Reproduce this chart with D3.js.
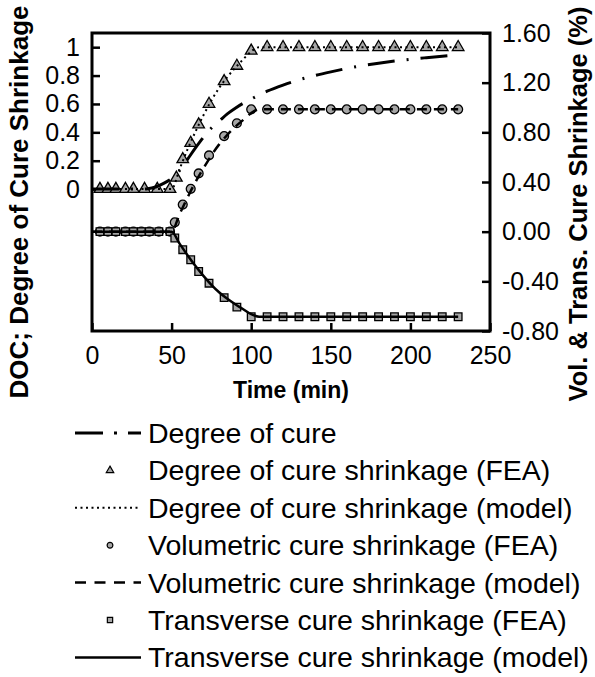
<!DOCTYPE html>
<html>
<head>
<meta charset="utf-8">
<script src="https://cdn.jsdelivr.net/npm/d3@7"></script>
<style>
  html, body { margin: 0; padding: 0; background: #fff; }
  svg { display: block; }
  text { font-family: "Liberation Sans", Arial, Helvetica, sans-serif; fill: #000; }
</style>
</head>
<body>
<svg id="chart" width="595" height="677"></svg>
<script>
// ---- data -------------------------------------------------------------
// Degree of cure (left axis)
const docTime  = [0, 10, 20, 30, 35, 40, 45, 50, 55, 60, 65, 70, 75, 80, 85, 90, 95, 100, 110, 120, 130, 140, 150, 160, 170, 180, 190, 200, 210, 220, 230];
const docValue = [0, 0, 0, 0, 0.003, 0.015, 0.04, 0.075, 0.13, 0.21, 0.29, 0.365, 0.43, 0.48, 0.53, 0.57, 0.605, 0.635, 0.69, 0.733, 0.77, 0.8, 0.826, 0.85, 0.87, 0.887, 0.902, 0.915, 0.926, 0.936, 0.945];

// Degree of cure shrinkage, normalised (left axis)
const docShrTimeFEA  = [5, 10, 15, 21, 26, 33, 41, 49, 53, 57, 62, 67, 73.5, 83, 91, 100, 110, 120, 130, 140, 150, 160, 170, 180, 190, 200, 210, 220, 230];
const docShrValueFEA = [0, 0, 0, 0, 0, 0, 0, 0, 0.08, 0.21, 0.325, 0.455, 0.6, 0.76, 0.868, 0.975, 1, 1, 1, 1, 1, 1, 1, 1, 1, 1, 1, 1, 1];

const modelTime      = [0, 5, 10, 15, 20, 25, 30, 35, 40, 45, 50, 55, 60, 65, 70, 75, 80, 85, 90, 95, 100, 105, 110, 120, 130, 140, 150, 160, 170, 180, 190, 200, 210, 220, 230];
const docShrModel    = [0, 0, 0, 0, 0, 0, 0, 0, 0, 0, 0, 0.14, 0.28, 0.405, 0.52, 0.625, 0.715, 0.79, 0.855, 0.915, 0.97, 1, 1, 1, 1, 1, 1, 1, 1, 1, 1, 1, 1, 1, 1];

// Volumetric and transverse cure shrinkage in % (right axis)
const shrTimeFEA  = [5, 10, 15, 21, 26, 31, 36, 42, 49, 52, 57, 62, 67, 73.5, 83, 91, 100, 110, 120, 130, 140, 150, 160, 170, 180, 190, 200, 210, 220, 230];
const volValueFEA = [0, 0, 0, 0, 0, 0, 0, 0, 0, 0.075, 0.218, 0.345, 0.469, 0.614, 0.77, 0.873, 0.985, 0.985, 0.985, 0.985, 0.985, 0.985, 0.985, 0.985, 0.985, 0.985, 0.985, 0.985, 0.985, 0.985];
const trValueFEA  = [0, 0, 0, 0, 0, 0, 0, 0, 0, -0.051, -0.145, -0.226, -0.321, -0.415, -0.531, -0.608, -0.685, -0.685, -0.685, -0.685, -0.685, -0.685, -0.685, -0.685, -0.685, -0.685, -0.685, -0.685, -0.685, -0.685];

const volModel = [0, 0, 0, 0, 0, 0, 0, 0, 0, 0, 0, 0.14, 0.275, 0.4, 0.51, 0.615, 0.705, 0.78, 0.845, 0.9, 0.955, 0.985, 0.985, 0.985, 0.985, 0.985, 0.985, 0.985, 0.985, 0.985, 0.985, 0.985, 0.985, 0.985, 0.985];
const trModel  = [0, 0, 0, 0, 0, 0, 0, 0, 0, 0, 0, -0.096, -0.19, -0.277, -0.356, -0.428, -0.49, -0.541, -0.585, -0.625, -0.665, -0.685, -0.685, -0.685, -0.685, -0.685, -0.685, -0.685, -0.685, -0.685, -0.685, -0.685, -0.685, -0.685, -0.685];

// Axis ticks
const xTicks     = [0, 50, 100, 150, 200, 250];
const leftTicks  = [0, 0.2, 0.4, 0.6, 0.8, 1];
const rightTicks = [-0.8, -0.4, 0, 0.4, 0.8, 1.2, 1.6];

const legendLabels = [
  "Degree of cure",
  "Degree of cure shrinkage (FEA)",
  "Degree of cure shrinkage (model)",
  "Volumetric cure shrinkage (FEA)",
  "Volumetric cure shrinkage (model)",
  "Transverse cure shrinkage (FEA)",
  "Transverse cure shrinkage (model)"
];

// ---- layout -----------------------------------------------------------
const plot = { left: 92, right: 490, top: 33, bottom: 331 };
const MARK_FILL = "#a6a6a6";

const svg = d3.select("#chart");

const x = d3.scaleLinear().domain([0, 250]).range([plot.left, plot.right]);
const yL = d3.scaleLinear().domain([-1, 1.1]).range([plot.bottom, plot.top]);
const yR = d3.scaleLinear().domain([-0.8, 1.6]).range([plot.bottom, plot.top]);

// ---- axes (ticks point inward) -----------------------------------------
const fmtL = d => d === 0 ? "0" : d === 1 ? "1" : d3.format(".1f")(d);
const fmtR = d => d3.format(".2f")(d).replace("−", "-");

const axisBottom = d3.axisBottom(x).tickValues(xTicks).tickSize(-8).tickPadding(15).tickFormat(d3.format("d"));
const axisLeft = d3.axisLeft(yL).tickValues(leftTicks).tickSize(-8).tickPadding(12).tickFormat(fmtL);
const axisRight = d3.axisRight(yR).tickValues(rightTicks).tickSize(-8).tickPadding(12).tickFormat(fmtR);

function styleAxis(g, size) {
  g.select(".domain").remove();
  g.selectAll(".tick line").attr("stroke", "#000").attr("stroke-width", 2.5);
  g.selectAll(".tick text").attr("font-size", size).attr("fill", "#000");
}

svg.append("g").attr("transform", `translate(0,${plot.bottom})`).call(axisBottom).call(g => styleAxis(g, 25));
svg.append("g").attr("transform", `translate(${plot.left},0)`).call(axisLeft).call(g => styleAxis(g, 25));
svg.append("g").attr("transform", `translate(${plot.right},0)`).call(axisRight).call(g => styleAxis(g, 25));

// frame
svg.append("rect")
  .attr("x", plot.left).attr("y", plot.top)
  .attr("width", plot.right - plot.left).attr("height", plot.bottom - plot.top)
  .attr("fill", "none").attr("stroke", "#000").attr("stroke-width", 3);

// ---- axis titles -------------------------------------------------------
svg.append("text")
  .attr("transform", `translate(${(plot.left + plot.right) / 2},398)`)
  .attr("text-anchor", "middle").attr("font-weight", "bold").attr("font-size", 23)
  .text("Time (min)");

svg.append("text")
  .attr("transform", "translate(28,202) rotate(-90)")
  .attr("text-anchor", "middle").attr("font-weight", "bold").attr("font-size", 26)
  .text("DOC; Degree of Cure Shrinkage");

svg.append("text")
  .attr("transform", "translate(587,204) rotate(-90)")
  .attr("text-anchor", "middle").attr("font-weight", "bold").attr("font-size", 25.5)
  .text("Vol. & Trans. Cure Shrinkage (%)");

// ---- marker symbols -----------------------------------------------------
const triSym = d3.symbol().type(d3.symbolTriangle);
const sqSym = d3.symbol().type(d3.symbolSquare);
const circSym = d3.symbol().type(d3.symbolCircle);

function markers(g, xs, ys, yScale, sym, size) {
  g.selectAll(null).data(xs.map((t, i) => [t, ys[i]])).join("path")
    .attr("transform", d => `translate(${x(d[0])},${yScale(d[1])})`)
    .attr("d", sym.size(size)())
    .attr("fill", MARK_FILL).attr("stroke", "#000").attr("stroke-width", 1.3);
}

const plotG = svg.append("g");

// FEA points
markers(plotG, shrTimeFEA, volValueFEA, yR, circSym, 62);
markers(plotG, shrTimeFEA, trValueFEA, yR, sqSym, 58);
markers(plotG, docShrTimeFEA, docShrValueFEA, yL, triSym, 58);

// model curves on top
function curve(ts, vs, yScale) {
  return d3.line().x(d => x(d[0])).y(d => yScale(d[1])).curve(d3.curveMonotoneX)(ts.map((t, i) => [t, vs[i]]));
}

const lineStyles = {
  doc:    { width: 3,   dash: "27,12,2,12" },
  docShr: { width: 2,   dash: "2,3.5" },
  vol:    { width: 2.5, dash: "10,7" },
  tr:     { width: 2.5, dash: null }
};

plotG.append("path").attr("d", curve(modelTime, trModel, yR))
  .attr("fill", "none").attr("stroke", "#000").attr("stroke-width", lineStyles.tr.width);
plotG.append("path").attr("d", curve(modelTime, volModel, yR))
  .attr("fill", "none").attr("stroke", "#000").attr("stroke-width", lineStyles.vol.width)
  .attr("stroke-dasharray", lineStyles.vol.dash);
plotG.append("path").attr("d", curve(modelTime, docShrModel, yL))
  .attr("fill", "none").attr("stroke", "#000").attr("stroke-width", lineStyles.docShr.width)
  .attr("stroke-dasharray", lineStyles.docShr.dash);
plotG.append("path").attr("d", curve(docTime, docValue, yL))
  .attr("fill", "none").attr("stroke", "#000").attr("stroke-width", lineStyles.doc.width)
  .attr("stroke-dasharray", lineStyles.doc.dash);

// ---- legend -------------------------------------------------------------
const legend = svg.append("g");
const rowY = i => 433 + i * 37.4;
const lx0 = 75, lx1 = 141, mx = 110, tx = 148;

const legendKinds = [
  { line: lineStyles.doc, dash: "28,11,3,11" },
  { marker: triSym, size: 24 },
  { line: lineStyles.docShr, dash: "2,3.5" },
  { marker: circSym, size: 26 },
  { line: lineStyles.vol, dash: "11,8.5" },
  { marker: sqSym, size: 28 },
  { line: lineStyles.tr, dash: null }
];

legendKinds.forEach((k, i) => {
  const y = rowY(i);
  if (k.line) {
    legend.append("line").attr("x1", lx0).attr("x2", lx1).attr("y1", y).attr("y2", y)
      .attr("stroke", "#000").attr("stroke-width", k.line.width)
      .attr("stroke-dasharray", k.dash);
  } else {
    legend.append("path").attr("transform", `translate(${mx},${y})`)
      .attr("d", k.marker.size(k.size)())
      .attr("fill", MARK_FILL).attr("stroke", "#000").attr("stroke-width", 1.2);
  }
  legend.append("text").attr("x", tx).attr("y", y).attr("dy", "0.35em")
    .attr("font-size", 28.5).text(legendLabels[i]);
});
</script>
</body>
</html>
